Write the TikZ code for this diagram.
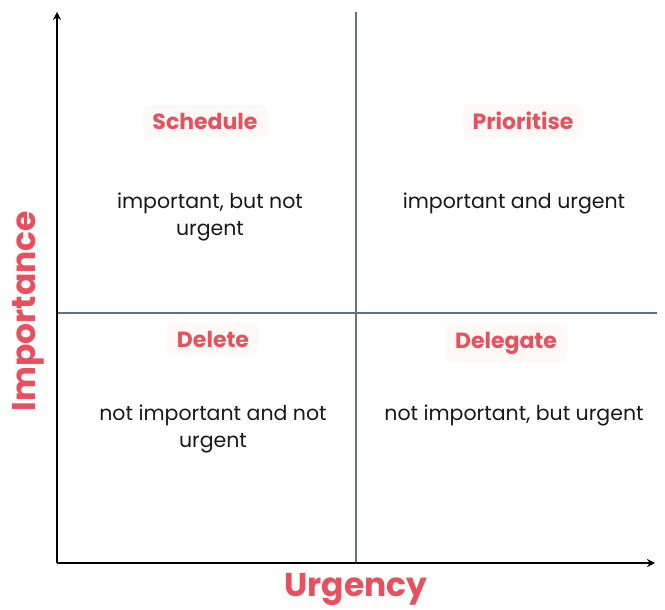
\documentclass[tikz,border=0pt]{standalone}
\usepackage{fontspec}
\setmainfont{Poppins}
\usetikzlibrary{arrows.meta}
\definecolor{accent}{HTML}{E9505E}
\definecolor{divider}{HTML}{60737F}
\definecolor{tagfill}{HTML}{FEF8F7}
\tikzset{
  axis/.style={line width=2pt, -{Stealth[length=8pt,width=8pt]}},
  divline/.style={divider, line width=1.8pt},
  tag/.style={fill=tagfill, rounded corners=8pt, text=accent, font=\fontsize{22}{26}\selectfont\bfseries,
    inner xsep=10pt, inner ysep=8pt},
  desc/.style={align=center, font=\fontsize{20.5}{27.5}\selectfont, text=black!90},
  axislabel/.style={text=accent, font=\fontsize{33}{38}\selectfont\bfseries}
}
\begin{document}
\begin{tikzpicture}[x=1pt,y=1pt]
  \useasboundingbox (0,0) rectangle (665,610);
  % quadrant dividers
  \coordinate (vtop) at (356,598);
  \coordinate (vbot) at (356,47);
  \coordinate (hl) at (57,297);
  \coordinate (hr) at (657,297);
  \draw[divline] (vbot) -- (vtop);
  \draw[divline] (hl) -- (hr);
  % axes
  \coordinate (origin) at (57,47);
  \coordinate (ytip) at (57,598);
  \coordinate (xtip) at (655,47);
  \draw[axis] (origin) -- (ytip);
  \draw[axis] (origin) -- (xtip);
  % quadrant titles
  \node[tag] (schedule) at (205,489) {Schedule};
  \node[tag] (prioritise) at (523,489) {Prioritise};
  \node[tag] (delete) at (213,271) {Delete};
  \node[tag] (delegate) at (506,267) {Delegate};
  % quadrant descriptions
  \node[desc] (tl) at (210,393) {important, but not\\urgent};
  \node[desc] (tr) at (514,407) {important and urgent};
  \node[desc] (bl) at (213,181) {not important and not\\urgent};
  \node[desc] (br) at (514,194.5) {not important, but urgent};
  % axis labels
  \node[axislabel, rotate=90] (importance) at (28,299) {Importance};
  \node[axislabel] (urgency) at (356,21) {Urgency};
\end{tikzpicture}
\end{document}
